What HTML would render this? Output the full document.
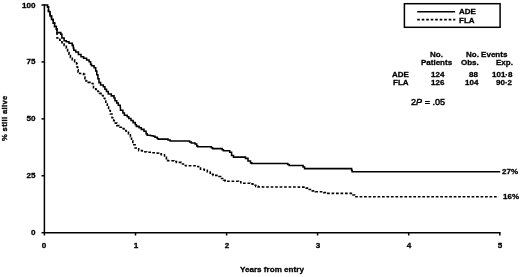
<!DOCTYPE html>
<html><head><meta charset="utf-8"><style>
html,body{margin:0;padding:0;background:#fff;}
body{width:520px;height:277px;position:relative;overflow:hidden;-webkit-font-smoothing:antialiased;font-family:"Liberation Sans",sans-serif;font-weight:bold;color:#000;}
svg{position:absolute;left:0;top:0;}
.t{position:absolute;white-space:nowrap;line-height:1;will-change:transform;-webkit-text-stroke:0.3px #000;}
.yl{left:0;width:35.5px;text-align:right;font-size:8.1px;}
.xl{top:242.2px;width:20px;text-align:center;font-size:8.1px;}
.tb{font-size:8px;}
</style></head><body>
<svg width="520" height="277" viewBox="0 0 520 277">
<g stroke="#000" stroke-width="1.5" fill="none">
<line x1="44.4" y1="4.3" x2="44.4" y2="235.5"/>
<line x1="43.699999999999996" y1="232.7" x2="500.6" y2="232.7"/>
<line x1="135.5" y1="232.7" x2="135.5" y2="235.5"/><line x1="226.6" y1="232.7" x2="226.6" y2="235.5"/><line x1="317.6" y1="232.7" x2="317.6" y2="235.5"/><line x1="408.7" y1="232.7" x2="408.7" y2="235.5"/><line x1="499.8" y1="232.7" x2="499.8" y2="235.5"/><line x1="41.5" y1="232.70" x2="44.4" y2="232.70"/><line x1="41.5" y1="175.77" x2="44.4" y2="175.77"/><line x1="41.5" y1="118.85" x2="44.4" y2="118.85"/><line x1="41.5" y1="61.92" x2="44.4" y2="61.92"/><line x1="41.5" y1="5.00" x2="44.4" y2="5.00"/>
</g>
<polyline points="44.40,5.00 47.60,5.00 47.60,7.00 48.50,7.00 48.50,9.00 48.50,11.50 50.00,11.50 50.00,14.00 50.00,16.00 51.50,16.00 51.50,18.00 51.50,19.50 53.20,19.50 53.20,21.00 53.20,23.00 54.60,23.00 54.60,25.00 54.60,26.50 56.30,26.50 56.30,28.00 56.30,29.00 57.00,29.00 57.00,30.00 57.00,32.60 60.80,32.60 60.80,34.20 61.90,34.20 61.90,35.80 61.90,38.00 64.10,38.00 64.10,40.20 64.10,40.75 66.30,40.75 66.30,41.30 66.30,41.80 69.00,41.80 69.00,42.30 69.00,43.15 72.20,43.15 72.20,44.00 72.20,45.35 73.30,45.35 73.30,46.70 73.30,48.00 73.80,48.00 73.80,49.30 73.80,50.15 75.70,50.15 75.70,51.00 75.70,52.05 78.40,52.05 78.40,53.10 78.40,54.45 81.00,54.45 81.00,55.80 81.00,56.65 83.60,56.65 83.60,57.50 83.60,58.30 86.60,58.30 86.60,59.10 86.60,59.90 89.10,59.90 89.10,60.70 89.10,61.80 90.60,61.80 90.60,62.90 90.60,64.20 91.50,64.20 91.50,65.50 91.50,65.80 94.10,65.80 94.10,66.10 94.10,67.70 95.70,67.70 95.70,69.30 95.70,70.95 96.80,70.95 96.80,72.60 96.80,74.75 97.90,74.75 97.90,76.90 97.90,78.80 99.00,78.80 99.00,80.70 99.00,82.60 100.60,82.60 100.60,84.50 100.60,85.05 103.30,85.05 103.30,85.60 103.30,86.70 104.90,86.70 104.90,87.80 104.90,89.15 106.50,89.15 106.50,90.50 106.50,91.55 108.30,91.55 108.30,92.60 108.30,93.95 111.30,93.95 111.30,95.30 111.30,95.85 114.00,95.85 114.00,96.40 114.00,98.00 115.00,98.00 115.00,99.60 115.00,100.70 116.70,100.70 116.70,101.80 116.70,102.90 118.30,102.90 118.30,104.00 118.30,105.25 120.20,105.25 120.20,106.50 120.50,108.80 120.50,110.15 122.90,110.15 122.90,111.50 122.90,113.00 124.40,113.00 124.40,114.50 124.40,115.15 127.20,115.15 127.20,115.80 127.20,116.75 128.80,116.75 128.80,117.70 128.80,118.50 131.00,118.50 131.00,119.30 131.00,120.40 133.10,120.40 133.10,121.50 133.10,122.60 135.30,122.60 135.30,123.70 135.30,124.75 136.40,124.75 136.40,125.80 136.40,126.35 139.10,126.35 139.10,126.90 139.10,127.70 141.30,127.70 141.30,128.50 141.30,129.35 144.00,129.35 144.00,130.20 144.00,131.25 146.10,131.25 146.10,132.30 146.10,133.65 147.20,133.65 147.20,135.00 147.20,135.30 150.50,135.30 150.50,135.60 153.50,135.90 153.50,136.15 155.00,136.15 155.00,136.40 155.00,137.20 157.20,137.20 157.20,138.00 157.20,138.55 158.20,138.55 158.20,139.10 168.00,139.10 168.00,140.05 170.20,140.05 170.20,141.00 189.60,141.00 189.60,141.95 191.30,141.95 191.30,142.90 195.00,142.90 195.00,143.95 196.70,143.95 196.70,145.00 196.70,145.85 197.70,145.85 197.70,146.70 211.40,146.70 211.40,147.65 212.60,147.65 212.60,148.60 222.10,148.60 222.10,149.70 223.40,149.70 223.40,150.80 229.70,150.80 229.70,152.25 231.60,152.25 231.60,153.70 231.60,155.40 233.50,155.40 233.50,157.10 245.50,157.10 245.50,158.35 248.00,158.35 248.00,159.60 248.00,160.90 250.50,160.90 250.50,162.20 250.50,162.85 251.80,162.85 251.80,163.50 287.70,163.50 287.70,164.50 289.20,164.50 289.20,165.50 303.10,165.50 303.10,167.05 304.60,167.05 304.60,168.60 351.60,168.60 351.60,170.20 352.10,170.20 352.10,171.80 500.20,171.80" stroke="#000" stroke-width="1.55" fill="none" stroke-linejoin="miter"/>
<polyline points="47.60,5.00 47.60,7.00 48.50,7.00 48.50,9.00 48.50,11.50 50.00,11.50 50.00,14.00 50.00,16.00 51.50,16.00 51.50,18.00 51.50,19.50 53.20,19.50 53.20,21.00 53.20,23.00 54.60,23.00 54.60,25.00 54.60,26.50 56.30,26.50 56.30,28.00 56.30,29.00 57.00,29.00 57.00,30.00 57.00,32.60 57.00,36.90 57.00,38.00 59.80,38.00 59.80,39.10 59.80,40.20 61.90,40.20 61.90,41.30 61.90,42.65 64.10,42.65 64.10,44.00 64.10,45.35 66.30,45.35 66.30,46.70 66.30,48.10 67.60,48.10 67.60,49.50 67.60,51.00 69.00,51.00 69.00,52.50 69.00,54.15 70.40,54.15 70.40,55.80 70.40,57.40 72.30,57.40 72.30,59.00 72.30,59.85 74.60,59.85 74.60,60.70 74.60,61.65 76.60,61.65 76.60,62.60 76.60,64.05 77.10,64.05 77.10,65.50 77.10,67.00 77.60,67.00 77.60,68.50 77.60,69.75 78.10,69.75 78.10,71.00 78.10,72.10 79.60,72.10 79.60,73.20 79.60,73.50 83.50,73.50 83.50,73.80 83.50,74.40 84.70,74.40 84.70,75.00 85.00,77.00 85.00,78.60 86.00,78.60 86.00,80.20 86.00,81.00 88.10,81.00 88.10,81.80 88.10,82.35 90.80,82.35 90.80,82.90 90.80,83.45 93.00,83.45 93.00,84.00 93.00,85.60 93.50,85.60 93.50,87.20 93.50,87.75 95.70,87.75 95.70,88.30 95.70,89.40 97.90,89.40 97.90,90.50 97.90,91.50 99.50,91.50 99.50,92.50 99.50,93.35 101.00,93.35 101.00,94.20 101.00,95.55 103.10,95.55 103.10,96.90 103.10,98.25 104.80,98.25 104.80,99.60 104.80,100.95 105.80,100.95 105.80,102.30 105.80,103.95 107.30,103.95 107.30,105.60 107.30,107.10 108.60,107.10 108.60,108.60 108.60,110.45 110.30,110.45 110.30,112.30 110.30,114.05 112.00,114.05 112.00,115.80 112.00,117.70 113.70,117.70 113.70,119.60 113.70,120.70 115.30,120.70 115.30,121.80 115.30,123.15 116.90,123.15 116.90,124.50 116.90,125.60 119.10,125.60 119.10,126.70 119.10,127.25 121.30,127.25 121.30,127.80 121.30,128.60 124.00,128.60 124.00,129.40 124.00,130.45 126.10,130.45 126.10,131.50 126.10,132.35 128.50,132.35 128.50,133.20 128.50,133.85 130.40,133.85 130.40,134.50 130.40,136.60 131.50,136.60 131.50,138.70 131.50,140.85 132.80,140.85 132.80,143.00 132.80,144.80 135.10,144.80 135.10,146.60 135.10,148.05 138.70,148.05 138.70,149.50 138.70,150.60 142.30,150.60 142.30,151.70 146.70,152.00 146.70,152.20 151.70,152.20 151.70,152.40 151.70,152.75 155.30,152.75 155.30,153.10 158.80,153.30 158.80,153.90 161.30,153.90 161.30,154.50 161.30,154.80 164.50,154.80 164.50,155.10 164.50,157.30 166.40,157.30 166.40,159.50 166.40,160.15 167.60,160.15 167.60,160.80 174.00,160.80 174.00,161.45 176.50,161.45 176.50,162.10 176.50,162.40 180.90,162.40 180.90,162.70 180.90,163.95 183.40,163.95 183.40,165.20 183.40,165.50 186.00,165.50 186.00,165.80 196.70,165.80 196.70,166.45 198.60,166.45 198.60,167.10 198.60,168.05 200.50,168.05 200.50,169.00 200.50,169.30 204.30,169.30 204.30,169.60 204.30,170.20 207.30,170.20 207.30,170.80 207.30,171.95 210.20,171.95 210.20,173.10 210.20,174.25 213.10,174.25 213.10,175.40 217.70,175.40 217.70,176.55 220.60,176.55 220.60,177.70 220.60,178.55 223.50,178.55 223.50,179.40 223.50,180.30 225.20,180.30 225.20,181.20 238.50,181.20 238.50,181.75 240.80,181.75 240.80,182.30 240.80,182.75 242.50,182.75 242.50,183.20 250.00,183.20 250.00,183.90 252.90,183.90 252.90,184.60 252.90,185.20 255.80,185.20 255.80,185.80 255.80,186.35 258.10,186.35 258.10,186.90 306.20,187.10 306.20,188.10 308.50,188.10 308.50,189.10 308.50,189.55 312.30,189.55 312.30,190.00 312.30,190.90 315.40,190.90 315.40,191.80 323.80,191.80 323.80,192.60 325.40,192.60 325.40,193.40 353.10,193.40 353.10,195.05 354.60,195.05 354.60,196.70 498.60,196.70" stroke="#000" stroke-width="1.6" fill="none" stroke-dasharray="2.7 1.78" stroke-dashoffset="3.5"/>
<rect x="404.4" y="3.7" width="95.7" height="23.6" stroke="#000" stroke-width="1.5" fill="none"/>
<line x1="417.2" y1="11.8" x2="455.1" y2="11.8" stroke="#000" stroke-width="1.5"/>
<line x1="417.2" y1="19.7" x2="455.3" y2="19.7" stroke="#000" stroke-width="1.75" stroke-dasharray="2.6 1.9"/>
</svg>
<div class="t yl" style="top:1.5px">100</div><div class="t yl" style="top:58.4px">75</div><div class="t yl" style="top:115.3px">50</div><div class="t yl" style="top:172.3px">25</div><div class="t yl" style="top:229.2px">0</div><div class="t xl" style="left:34.4px">0</div><div class="t xl" style="left:125.5px">1</div><div class="t xl" style="left:216.6px">2</div><div class="t xl" style="left:307.6px">3</div><div class="t xl" style="left:398.7px">4</div><div class="t xl" style="left:489.8px">5</div>
<div class="t" style="left:1.3px;top:140.9px;font-size:7.6px;letter-spacing:0.36px;transform-origin:0 0;transform:rotate(-90deg);">% still alive</div>
<div class="t" style="left:240.2px;top:266.3px;font-size:8.1px;">Years from entry</div>
<div class="t" style="left:458.8px;top:8.2px;font-size:8px;">ADE</div>
<div class="t" style="left:458.8px;top:16.9px;font-size:8px;">FLA</div>
<div class="t tb" style="left:429.8px;top:50.7px;">No.</div>
<div class="t tb" style="left:420.7px;top:59px;">Patients</div>
<div class="t tb" style="left:466.2px;top:50.7px;">No. Events</div>
<div class="t tb" style="left:460.6px;top:59px;">Obs.</div>
<div class="t tb" style="left:496px;top:59px;">Exp.</div>
<div class="t tb" style="left:392.1px;top:71.2px;">ADE</div>
<div class="t tb" style="left:392.9px;top:79px;">FLA</div>
<div class="t tb" style="left:430.5px;top:71.2px;">124</div>
<div class="t tb" style="left:430.5px;top:79px;">126</div>
<div class="t tb" style="left:468.6px;top:71.2px;">88</div>
<div class="t tb" style="left:464.8px;top:79px;">104</div>
<div class="t tb" style="left:491.5px;top:71.2px;">101·8</div>
<div class="t tb" style="left:496px;top:79px;">90·2</div>
<div class="t" style="left:411.2px;top:98.3px;font-size:9.1px;font-weight:normal;-webkit-text-stroke:0.45px #000;">2<i>P</i> = .05</div>
<div class="t tb" style="left:502.2px;top:167.8px;">27%</div>
<div class="t tb" style="left:503px;top:192.8px;">16%</div>
</body></html>
